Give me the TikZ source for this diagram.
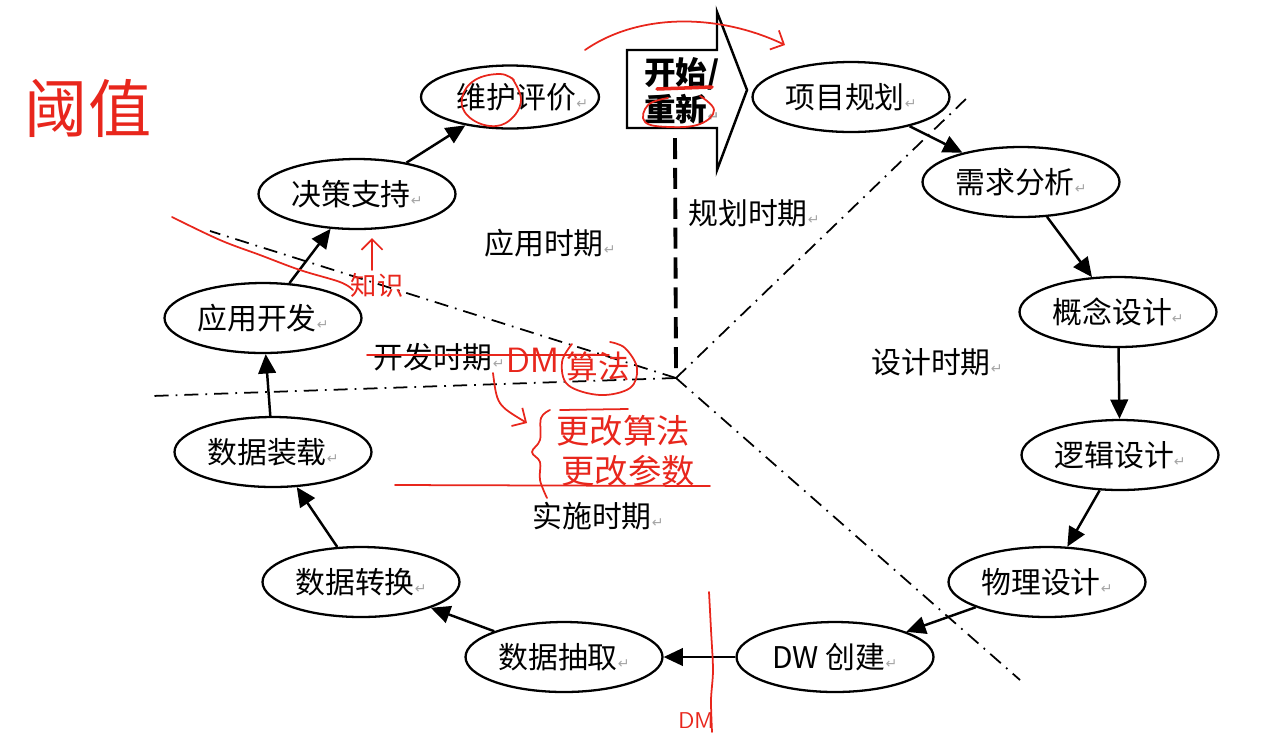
\documentclass[tikz,border=0pt]{standalone}
\usepackage{fontspec}
\newfontfamily\cjk{Noto Sans CJK SC}
\newfontfamily\symfont{DejaVu Sans}
\usepackage{xcolor}
\usepackage{tikz}
\usetikzlibrary{
  arrows.meta,
  positioning,
  shapes.geometric,
  calc
}
\definecolor{pen}{RGB}{232,38,28}
\newcommand{\pmark}{{\symfont\color{gray!70}\fontsize{8}{8}\selectfont ↵}}

\tikzset{
  stage/.style={ellipse,draw,line width=1.3pt,minimum width=3.94cm,minimum height=1.4cm,
    inner sep=0pt,font=\cjk\fontsize{17}{20}\selectfont},
  flow/.style={-{Triangle[length=11pt,width=10pt]},line width=1.4pt},
  phase/.style={font=\cjk\fontsize{17}{20}\selectfont},
  divider/.style={line width=1pt,dash pattern=on 8pt off 4pt on 1pt off 4pt},
  ink/.style={pen,line width=1pt,line cap=round,line join=round},
  scrawl/.style={pen,inner sep=0pt,font=\cjk\fontsize{18}{20}\selectfont}
}

\begin{document}
\begin{tikzpicture}[x=0.02cm,y=-0.02cm]
\useasboundingbox (0,0) rectangle (1266,748);

% stages of the cycle
\node[stage,minimum width=3.56cm,minimum height=1.26cm] (review) at (510,97) {\makebox[0pt]{\hspace{0.5cm}维护评价\pmark}};
\node[stage] (plan) at (851,97) {项目规划\pmark};
\node[stage] (needs) at (1021,182) {需求分析\pmark};
\node[stage] (concept) at (1118,312) {概念设计\pmark};
\node[stage] (logic) at (1120,455) {逻辑设计\pmark};
\node[stage] (physic) at (1047,582) {物理设计\pmark};
\node[stage] (dwbuild) at (835,657) {DW 创建\pmark};
\node[stage] (extract) at (564,657) {数据抽取\pmark};
\node[stage] (convert) at (361,582) {数据转换\pmark};
\node[stage] (load) at (273,452) {数据装载\pmark};
\node[stage] (appdev) at (263,318) {应用开发\pmark};
\node[stage] (decide) at (357,194) {决策支持\pmark};

% restart block arrow
\draw[line width=1.4pt,fill=white] (627,50) -- (717,50) -- (717,12) -- (747,90)
  -- (717,170) -- (717,128) -- (627,128) -- cycle;
\node[align=left,inner sep=0pt,font=\cjk\bfseries\fontsize{18}{21}\selectfont] (restart) at (682,91) {开始/\\重新\pmark};

% flow
\draw[flow] (plan) -- (needs);
\draw[flow] (needs) -- (concept);
\draw[flow] (concept) -- (logic);
\draw[flow] (logic) -- (physic);
\draw[flow] (physic) -- (dwbuild);
\draw[flow] (dwbuild) -- (extract);
\draw[flow] (extract) -- (convert);
\draw[flow] (convert) -- (load);
\draw[flow] (load) -- (appdev);
\draw[flow] (appdev) -- (decide);
\draw[flow] (decide) -- (review);

% phase borders
\coordinate (hub) at (676,378);
\coordinate (hubtop) at (675,138);
\draw[line width=2.2pt,dash pattern=on 12pt off 5pt] (hubtop) -- ($(hub)+(0,-5)$);
\draw[divider] (hub) -- (970,95);
\draw[divider] (hub) -- (210,231);
\draw[divider] (hub) -- (152,396);
\draw[divider] (hub) -- (1020,680);

% phases
\node[phase] (p1) at (754,213) {规划时期\pmark};
\node[phase] (p2) at (550,243) {应用时期\pmark};
\node[phase] (p3) at (937,362) {设计时期\pmark};
\node[phase] (p4) at (439,357) {开发时期\pmark};
\node[phase] (p5) at (598,516) {实施时期\pmark};

% red notes
\node[scrawl,font=\cjk\fontsize{36}{40}\selectfont] (thresh) at (88,108) {阈值};
\draw[ink,-{Straight Barb[length=6pt]}] (585,50) .. controls (640,12) and (720,14) .. (785,45);
\draw[ink,line width=2pt] (657,89) -- (712,87);
\draw[ink] plot[smooth,tension=0.7] coordinates {(700,96) (714,110) (700,124) (670,127) (645,122) (648,105) (668,98)};
\draw[ink] plot[smooth,tension=0.7] coordinates {(512,78) (521,100) (510,120) (490,126) (468,116) (462,98) (475,80) (500,74) (514,80)};
\draw[ink] plot[smooth,tension=0.6] coordinates {(172,217) (220,240) (260,255) (300,270) (340,282) (353,290)};
\node[scrawl,font=\cjk\fontsize{15}{16}\selectfont] (know) at (377,285) {知识};
\draw[ink,-{Straight Barb[length=6pt]}] (372,270) -- (372,238);
\draw[ink] (367,355) -- (609,355);
\node[scrawl,font=\sffamily\fontsize{20}{22}\selectfont] (dm1) at (533,360) {DM};
\node[scrawl] (algo) at (598,366) {算法};
\draw[ink] plot[smooth,tension=0.6] coordinates {(572,344) (562,362) (568,385) (600,395) (630,388) (637,368) (625,348) (610,342)};
\draw[ink,-{Straight Barb[length=6pt]}] (493,373) .. controls (497,405) .. (527,423);
\draw[ink] plot[smooth,tension=0.6] coordinates {(550,410) (541,418) (540,440) (532,452) (540,462) (540,480) (547,498)};
\draw[ink] (560,410) -- (628,409);
\node[scrawl,font=\cjk\fontsize{19}{21}\selectfont] (chg1) at (623,431) {更改算法};
\node[scrawl,font=\cjk\fontsize{19}{21}\selectfont] (chg2) at (628,471) {更改参数};
\draw[ink] (395,485) -- (710,486);
\draw[ink] plot[smooth,tension=0.5] coordinates {(709,592) (711,630) (713,670) (711,700) (712,732)};
\node[scrawl,font=\sffamily\fontsize{13}{14}\selectfont] (dm2) at (696,721) {DM};
\end{tikzpicture}
\end{document}
